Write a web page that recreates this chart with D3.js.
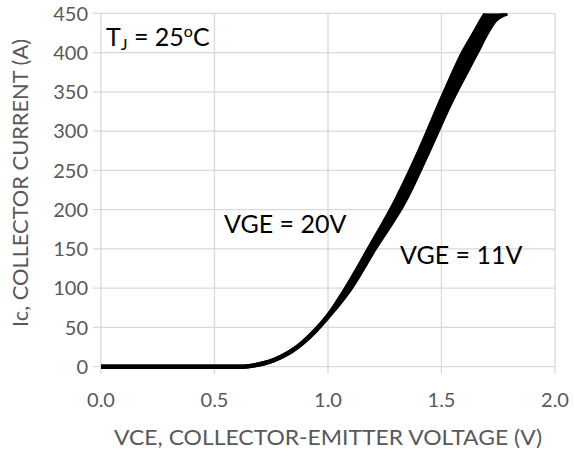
<!DOCTYPE html>
<html>
<head>
<meta charset="utf-8">
<script src="https://cdn.jsdelivr.net/npm/d3@7"></script>
<style>
	body { margin: 0; background: #fff; }
	svg text { font-family: Lato, "Open Sans", sans-serif; }
</style>
</head>
<body>
<div id="chart"></div>
<script>
// collector current (A) shared by both curves
var ic    = [0, 0,    2,    6,    12,   20,   30,    45,    65,    100,  150,   212,  276,   340,   370,   400,   425,   441,   450];
// VCE (V) for VGE = 20V (left edge of band) and VGE = 11V (right edge)
var vce20 = [0, 0.62, 0.68, 0.74, 0.79, 0.84, 0.885, 0.94,  1.0,   1.08, 1.18,  1.30, 1.405, 1.50,  1.546, 1.595, 1.645, 1.676, 1.695];
var vce11 = [0, 0.62, 0.68, 0.74, 0.79, 0.84, 0.887, 0.943, 1.005, 1.10, 1.205, 1.34, 1.445, 1.546, 1.60,  1.655, 1.70,  1.736, 1.79];

var xTicks = [0, 0.5, 1.0, 1.5, 2.0];
var yTicks = [0, 50, 100, 150, 200, 250, 300, 350, 400, 450];

var width = 574, height = 457;
var margin = { top: 13.3, right: 19, bottom: 90.3, left: 101 };

var svg = d3.select("#chart").append("svg")
	.attr("width", width)
	.attr("height", height);

var x = d3.scaleLinear().domain([0, 2]).range([margin.left, width - margin.right]);
var y = d3.scaleLinear().domain([0, 450]).range([height - margin.bottom, margin.top]);

var gridColor = "#d9d9d9", labelColor = "#595959";

// grid lines (they run past the axis as tick marks)
svg.append("g").selectAll("line").data(yTicks).enter().append("line")
	.attr("x1", x(0) - 8).attr("x2", x(2))
	.attr("y1", function(d){ return y(d); }).attr("y2", function(d){ return y(d); })
	.attr("stroke", gridColor).attr("stroke-width", 1.3);

svg.append("g").selectAll("line").data(xTicks).enter().append("line")
	.attr("x1", function(d){ return x(d); }).attr("x2", function(d){ return x(d); })
	.attr("y1", y(450)).attr("y2", y(0) + 7)
	.attr("stroke", gridColor).attr("stroke-width", 1.3);

// tick labels
svg.append("g").selectAll("text").data(yTicks).enter().append("text")
	.attr("x", x(0) - 13)
	.attr("y", function(d){ return y(d); })
	.attr("dy", "0.36em")
	.attr("text-anchor", "end")
	.attr("font-size", 20)
	.attr("fill", labelColor)
	.text(function(d){ return d; });

svg.append("g").selectAll("text").data(xTicks).enter().append("text")
	.attr("x", function(d){ return x(d); })
	.attr("y", 407)
	.attr("text-anchor", "middle")
	.attr("font-size", 20)
	.attr("fill", labelColor)
	.text(function(d){ return d3.format(".1f")(d); });

// axis titles
svg.append("text")
	.attr("x", x(1)).attr("y", 445)
	.attr("text-anchor", "middle")
	.attr("font-size", 21)
	.attr("textLength", 428)
	.attr("lengthAdjust", "spacingAndGlyphs")
	.attr("fill", labelColor)
	.text("VCE, COLLECTOR-EMITTER VOLTAGE (V)");

svg.append("text")
	.attr("transform", "translate(28,183) rotate(-90)")
	.attr("text-anchor", "middle")
	.attr("font-size", 21)
	.attr("textLength", 288)
	.attr("lengthAdjust", "spacingAndGlyphs")
	.attr("fill", labelColor)
	.text("Ic, COLLECTOR CURRENT (A)");

// curves
svg.append("clipPath").attr("id", "plot")
	.append("rect")
	.attr("x", x(0)).attr("y", y(450))
	.attr("width", x(2) - x(0)).attr("height", y(0) - y(450) + 10);

var pts = ic.map(function(d, i){ return { i: d, a: vce20[i], b: vce11[i] }; });

var plot = svg.append("g").attr("clip-path", "url(#plot)");

// band between the two curves (from the knee up, current strictly rising)
plot.append("path")
	.datum(pts.slice(1))
	.attr("d", d3.area().curve(d3.curveMonotoneY)
		.y(function(d){ return y(d.i); })
		.x0(function(d){ return x(d.a); })
		.x1(function(d){ return x(d.b); }))
	.attr("fill", "#000");

[ "a", "b" ].forEach(function(k){
	plot.append("path")
		.datum(pts)
		.attr("d", d3.line().curve(d3.curveMonotoneX)
			.x(function(d){ return x(d[k]); })
			.y(function(d){ return y(d.i); }))
		.attr("fill", "none")
		.attr("stroke", "#000")
		.attr("stroke-width", 4.5);
});

// annotations
var tj = svg.append("text").attr("x", 106).attr("y", 46).attr("font-size", 25).attr("fill", "#000");
tj.append("tspan").text("T");
tj.append("tspan").attr("font-size", 16).attr("dy", 4).text("J");
tj.append("tspan").attr("dy", -4).text(" = 25");
tj.append("tspan").attr("font-size", 16).attr("dy", -9).text("o");
tj.append("tspan").attr("dy", 9).text("C");

svg.append("text").attr("x", 224).attr("y", 233).attr("font-size", 25).attr("fill", "#000").text("VGE = 20V");
svg.append("text").attr("x", 400).attr("y", 264).attr("font-size", 25).attr("fill", "#000").text("VGE = 11V");
</script>
</body>
</html>
